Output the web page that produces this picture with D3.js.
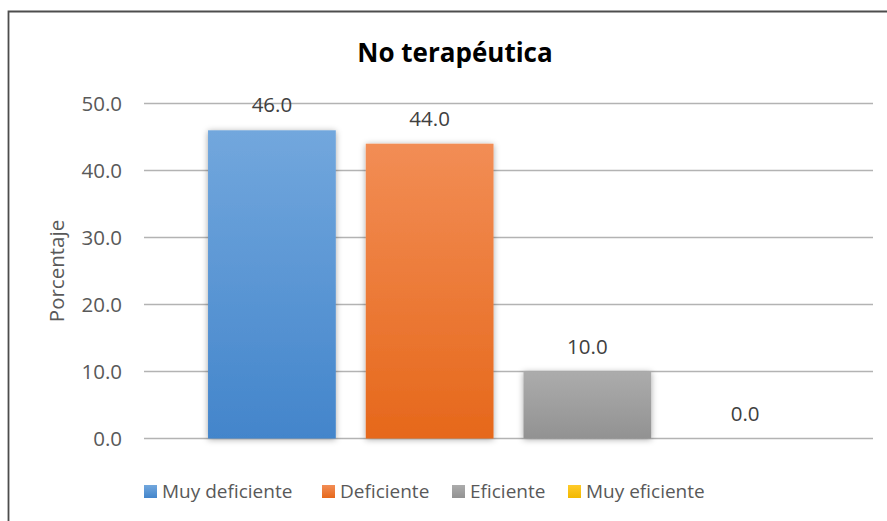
<!DOCTYPE html>
<html>
<head>
<meta charset="utf-8">
<script src="https://cdn.jsdelivr.net/npm/d3@7"></script>
<style>
  body { margin: 0; background: #fff; }
  svg { display: block; font-family: "Open Sans", "Noto Sans", sans-serif; }
</style>
</head>
<body>
<svg id="chart" width="887" height="521"></svg>
<script>
(function () {
  'use strict';

  var title = 'No terapéutica';
  var series = ['Muy deficiente', 'Deficiente', 'Eficiente', 'Muy eficiente'];
  var values = [46.0, 44.0, 10.0, 0.0];
  var yTicks = [0, 10, 20, 30, 40, 50];
  var yLabel = 'Porcentaje';

  var colorTop = { 'Muy deficiente': '#72a7dd', 'Deficiente': '#f28d55', 'Eficiente': '#acacac', 'Muy eficiente': '#ffcb2a' };
  var colorBottom = { 'Muy deficiente': '#4385cb', 'Deficiente': '#e6681b', 'Eficiente': '#929292', 'Muy eficiente': '#f2b800' };

  var svg = d3.select('#chart');
  var defs = svg.append('defs');

  series.forEach(function (s, i) {
    var g = defs.append('linearGradient')
      .attr('id', 'grad' + i)
      .attr('x1', 0).attr('y1', 0).attr('x2', 0).attr('y2', 1);
    g.append('stop').attr('offset', '0%').attr('stop-color', colorTop[s]);
    g.append('stop').attr('offset', '100%').attr('stop-color', colorBottom[s]);
  });

  var shadow = defs.append('filter').attr('id', 'shadow')
    .attr('x', '-20%').attr('y', '-20%').attr('width', '140%').attr('height', '140%');
  shadow.append('feDropShadow')
    .attr('dx', 0).attr('dy', 1).attr('stdDeviation', 3)
    .attr('flood-color', '#000').attr('flood-opacity', 0.35);

  // outer frame, only left and top edges are inside the picture
  svg.append('path')
    .attr('d', 'M8.5,521 L8.5,11.5 L887,11.5')
    .attr('fill', 'none')
    .attr('stroke', '#4d4d4d')
    .attr('stroke-width', 1.8);

  var left = 144, right = 873, top = 103.5, bottom = 438.5;

  var y = d3.scaleLinear().domain([0, 50]).range([bottom, top]);
  var x = d3.scaleBand().domain(series).range([left, right])
    .paddingInner(0.19).paddingOuter(0.406);

  // gridlines
  svg.append('g').selectAll('line')
    .data(yTicks)
    .enter().append('line')
    .attr('x1', left).attr('x2', right)
    .attr('y1', function (d) { return y(d); })
    .attr('y2', function (d) { return y(d); })
    .attr('stroke', '#b3b3b3')
    .attr('stroke-width', 1.3);

  // y axis labels
  var yAxis = d3.axisLeft(y).tickValues(yTicks)
    .tickFormat(d3.format('.1f')).tickSize(0).tickPadding(22);
  var ya = svg.append('g').attr('transform', 'translate(' + left + ',0)').call(yAxis);
  ya.select('.domain').remove();
  ya.selectAll('text')
    .attr('fill', '#595959')
    .style('font-size', '20.5px')
    .style('font-family', '"Open Sans", sans-serif');

  // bars
  svg.append('g').selectAll('rect')
    .data(values)
    .enter().append('rect')
    .attr('x', function (d, i) { return x(series[i]); })
    .attr('y', function (d) { return y(d); })
    .attr('width', x.bandwidth())
    .attr('height', function (d) { return y(0) - y(d); })
    .attr('fill', function (d, i) { return 'url(#grad' + i + ')'; })
    .attr('filter', 'url(#shadow)');

  // data labels
  svg.append('g').selectAll('text')
    .data(values)
    .enter().append('text')
    .attr('x', function (d, i) { return x(series[i]) + x.bandwidth() / 2; })
    .attr('y', function (d) { return y(d) - 18; })
    .attr('text-anchor', 'middle')
    .attr('fill', '#404040')
    .style('font-size', '20.5px')
    .text(function (d) { return d3.format('.1f')(d); });

  // title
  svg.append('text')
    .attr('x', 455).attr('y', 62)
    .attr('text-anchor', 'middle')
    .attr('fill', '#000')
    .style('font-size', '26px')
    .style('font-weight', 'bold')
    .text(title);

  // y axis title
  svg.append('text')
    .attr('transform', 'translate(63.5,' + ((top + bottom) / 2) + ') rotate(-90)')
    .attr('text-anchor', 'middle')
    .attr('fill', '#595959')
    .style('font-size', '20.5px')
    .text(yLabel);

  // legend
  var legendX = [144, 322, 452, 568];
  var lg = svg.append('g').selectAll('g')
    .data(series)
    .enter().append('g')
    .attr('transform', function (d, i) { return 'translate(' + legendX[i] + ',485)'; });
  lg.append('rect')
    .attr('width', 13).attr('height', 13)
    .attr('fill', function (d, i) { return 'url(#grad' + i + ')'; });
  lg.append('text')
    .attr('x', 18).attr('y', 13)
    .attr('fill', '#595959')
    .style('font-size', '19px')
    .text(function (d) { return d; });
})();
</script>
</body>
</html>
